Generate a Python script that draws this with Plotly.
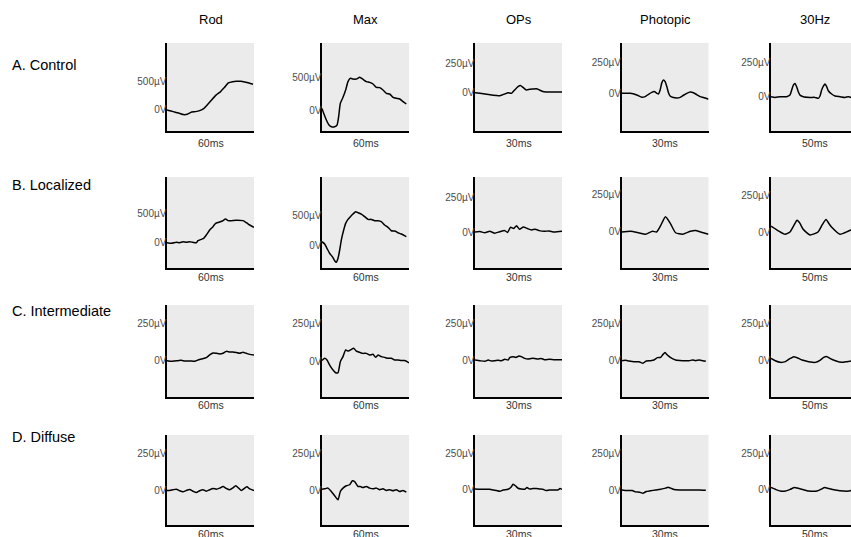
import plotly.graph_objects as go

# ---------------- data ----------------
row_labels = ["A. Control", "B. Localized", "C. Intermediate", "D. Diffuse"]
col_labels = ["Rod", "Max", "OPs", "Photopic", "30Hz"]
time_labels = ["60ms", "60ms", "30ms", "30ms", "50ms"]
big_ticks = [0, 500]
big_tick_text = ["0V", "500µV"]
small_ticks = [0, 250]
small_tick_text = ["0V", "250µV"]

# A. Control
control_rod_t = [0, 6.9, 14.4, 21.3, 28.2, 35.1, 42.5, 49.4, 56.3, 63.8, 70.7, 77.6, 84.5, 92, 98.9, 105.7, 113.2, 120.1, 127, 133.9, 141.4, 148.3]
control_rod_v = [0, -18, -41, -59, -82, -76, -35, -29, -12, 29, 106, 188, 265, 324, 400, 482, 506, 512, 512, 500, 482, 459]
control_max_t = [0, 2.9, 7.5, 12.1, 16.1, 21.8, 25.9, 28.7, 31.6, 36.2, 40.8, 44.8, 48.9, 53.4, 59.2, 65, 70.7, 76.5, 82.2, 88, 93.7, 99.5, 105.2, 111, 116.7, 122.5, 128.2, 134, 139.7, 145.4]
control_max_v = [25, -51, -153, -230, -255, -255, -230, -102, 102, 194, 306, 434, 485, 474, 474, 500, 469, 434, 423, 398, 347, 342, 306, 255, 245, 194, 179, 168, 128, 92]
control_ops_t = [0, 4.3, 10, 15.7, 21.4, 25.7, 28.5, 31.4, 34.2, 37.1, 39.1, 41.4, 44.2, 47.1, 49.9, 52.8, 55.6, 58.5, 61.3, 64.2, 68.4, 75]
control_ops_v = [0, -6, -14, -23, -26, -11, 0, -6, 23, 51, 60, 45, 23, 28, 31, 34, 23, 9, 6, 6, 6, 6]
control_pho_t = [0, 7.5, 13.2, 17.5, 20.4, 23.3, 26.1, 28.2, 30.5, 31.9, 33.3, 34.8, 36.2, 37.6, 39.1, 40.5, 41.9, 44.8, 47.7, 50.6, 53.4, 56.3, 59.2, 62, 64.9, 67.8, 70.7, 75]
control_pho_v = [0, 0, -14, -33, -27, -8, 8, 14, 0, -5, 27, 87, 109, 95, 54, 5, -22, -35, -38, -33, -16, 0, 11, 5, -11, -27, -35, -49]
control_hz_t = [0, 4.4, 9.8, 17.1, 20.7, 22.6, 24.4, 26.2, 28, 29.8, 31.7, 35.3, 42.6, 48, 51.7, 53.5, 55.3, 57.2, 59, 60.8, 62.6, 66.2, 69.9, 75.3, 80.8, 84.4, 87.4, 95]
control_hz_v = [0, -5, 0, 0, 12, 49, 86, 98, 74, 37, 12, 0, -5, -5, -12, 5, 49, 78, 93, 74, 44, 20, 5, 0, -5, 0, -5, -5]

# B. Localized
local_rod_t = [0, 7.5, 16.1, 21.8, 27.6, 33.3, 39.1, 44.8, 50.6, 53.4, 59.2, 63.2, 67.8, 73.6, 79.3, 83.9, 89.7, 95.4, 101.1, 105.2, 110.9, 119.5, 131, 136.8, 142.5, 150]
local_rod_v = [0, -11, 6, 0, 17, 6, 17, 6, 0, 34, 57, 74, 131, 216, 273, 330, 347, 369, 403, 375, 375, 381, 375, 341, 301, 261]
local_max_t = [0, 4.6, 8.6, 13.2, 17.8, 21.8, 24.7, 27.6, 30.5, 33.3, 37.4, 40.8, 44.8, 48.9, 53.4, 58, 62.1, 67.8, 73.6, 79.3, 85.1, 90.8, 96.6, 102.3, 108, 113.8, 119.5, 125.3, 131, 136.8, 145.4]
local_max_v = [57, 17, -57, -142, -199, -267, -295, -227, -85, 85, 256, 369, 437, 483, 528, 568, 551, 528, 483, 437, 437, 415, 415, 398, 341, 301, 244, 239, 210, 187, 142]
local_ops_t = [0, 4.3, 8.5, 12.8, 17, 21.3, 25.6, 28.1, 30.7, 33.2, 35.8, 38.3, 41.7, 45.1, 48.6, 52, 55.4, 59.6, 63.9, 68.2, 75]
local_ops_v = [0, 3, -5, 5, -8, 2, 10, -3, 35, 25, 45, 20, 35, 25, 15, 20, 10, 5, 8, 0, 5]
local_pho_t = [0, 7.8, 14.7, 20.7, 26.7, 30.2, 33.6, 37.9, 42.2, 46.6, 52.6, 59.5, 63.8, 68.1, 75]
local_pho_v = [0, 5, -5, -15, 5, 0, 40, 100, 55, -5, -15, 5, 10, 0, -15]
local_hz_t = [0, 7.6, 15.3, 20.7, 25, 28.4, 31.5, 34.9, 42.6, 51.3, 56, 60.1, 63.5, 66.6, 75.3, 84.1, 95]
local_hz_v = [40, 10, -15, 0, 45, 80, 60, 20, -20, 0, 50, 85, 55, 30, -15, 5, 40]

# C. Intermediate
inter_rod_t = [0, 7.5, 13.2, 19, 24.7, 30.5, 39.1, 47.7, 53.4, 59.2, 67.8, 73.6, 79.3, 85.1, 90.8, 96.6, 102.3, 108, 113.8, 119.5, 125.3, 131, 136.8, 142.5, 150]
inter_rod_v = [0, -4, -2, 0, 2, -2, -2, -4, 4, 11, 20, 38, 51, 49, 45, 49, 62, 58, 58, 54, 49, 56, 49, 42, 38]
inter_max_t = [0, 4.6, 8.6, 13.2, 19, 23.6, 27.6, 31.6, 36.2, 40.8, 45.4, 50.6, 54.6, 59.2, 64.9, 70.7, 76.4, 82.2, 87.9, 92.5, 96.6, 102.3, 108, 113.8, 119.5, 125.3, 131, 136.8, 142.5, 150]
inter_max_v = [7, 22, 11, -22, -54, -72, -72, 0, 33, 76, 69, 80, 87, 69, 61, 54, 54, 43, 48, 28, 43, 33, 28, 22, 22, 11, 11, 7, 7, -7]
inter_ops_t = [0, 4.3, 8.6, 11.4, 14.3, 17.1, 20, 22.8, 25.7, 28.5, 29.9, 32.8, 35.1, 37.9, 39.9, 42.8, 45.6, 48.5, 51.3, 54.2, 57, 59.9, 64.2, 68.4, 75]
inter_ops_v = [0, -5, -9, 0, -7, -5, -2, -5, 5, 0, 16, 23, 18, 27, 23, 11, 7, 11, 11, 7, 11, 2, 5, 2, 2]
inter_pho_t = [0, 3.5, 6.3, 10.7, 15, 18.5, 21.3, 25.1, 28, 30.9, 33.8, 35.8, 37.5, 39.5, 42.4, 46.7, 52.5, 58.3, 61.2, 64, 66.9, 69.8, 72.7]
inter_pho_v = [0, 2, -2, -7, -7, -18, -2, 0, 4, 20, 22, 42, 54, 38, 20, 4, 0, 0, 4, 0, 4, 0, -4]
inter_hz_t = [0, 4.7, 10.2, 15.7, 21.1, 24.8, 28.4, 33.9, 41.1, 48.4, 53.9, 57.5, 61.2, 64.8, 70.3, 77.5, 83, 87.7, 95]
inter_hz_v = [11, -5, -16, -11, 11, 23, 16, 0, -11, -16, 0, 18, 23, 9, -5, -16, -11, -7, 11]

# D. Diffuse
diff_rod_t = [0, 4.6, 10.3, 16.1, 21.8, 27.6, 33.3, 39.1, 44.8, 50.6, 56.3, 62.1, 67.8, 73.6, 79.3, 85.1, 90.8, 96.6, 102.3, 108, 113.8, 118.4, 124.1, 128.2, 133.9, 137.9, 142.5, 150]
diff_rod_v = [0, 0, 5, 9, -2, -9, 0, 7, -5, -14, -2, 5, -5, 5, 14, 9, 16, 27, 14, 5, 18, 32, 14, 0, 16, 25, 11, 0]
diff_max_t = [0, 4.6, 10.3, 16.1, 21.8, 27.6, 31.6, 36.2, 42, 47.7, 52.3, 56.3, 62.1, 66.1, 70.7, 76.4, 82.2, 87.9, 93.7, 99.4, 105.2, 110.9, 116.7, 122.4, 128.2, 133.9, 139.7, 145.4]
diff_max_v = [9, 11, 16, -7, -36, -64, -7, 16, 32, 39, 66, 61, 27, 27, 20, 27, 16, 11, 16, 5, 11, 0, 5, -2, 5, -7, 0, -11]
diff_ops_t = [0, 4.3, 8.6, 12.8, 15.7, 18.5, 21.4, 24.2, 28.5, 31.4, 32.8, 35.1, 37.1, 39.9, 42.8, 44.8, 47.1, 49.9, 52.8, 55.6, 58.5, 61.3, 64.2, 67, 71.3, 73.3, 75]
diff_ops_v = [2, 0, 0, 0, -5, -9, -14, -5, 0, 18, 35, 23, 7, 2, 0, 12, 2, 5, 5, 2, 0, -9, -5, -5, -5, 5, 0]
diff_pho_t = [0, 4.9, 9.2, 12.1, 15.6, 18.5, 21.3, 25.1, 29.4, 32.3, 35.2, 38.1, 40.1, 42.4, 45.3, 49.6, 58.3, 66.9, 72.7]
diff_pho_v = [4, 0, 0, -9, -11, -18, -7, -2, 4, 7, 11, 16, 22, 16, 7, 4, 4, 4, 2]
diff_hz_t = [0, 4.7, 10.2, 15.7, 21.1, 25.5, 28.4, 33.9, 41.1, 50.2, 54.6, 58.6, 63, 70.3, 79.4, 84.8, 87.7, 95]
diff_hz_v = [12, 0, -12, -12, 0, 12, 9, 0, -12, -12, 0, 12, 5, -5, -12, -12, -7, 7]

traces = [
    [(control_rod_t, control_rod_v), (control_max_t, control_max_v), (control_ops_t, control_ops_v), (control_pho_t, control_pho_v), (control_hz_t, control_hz_v)],
    [(local_rod_t, local_rod_v), (local_max_t, local_max_v), (local_ops_t, local_ops_v), (local_pho_t, local_pho_v), (local_hz_t, local_hz_v)],
    [(inter_rod_t, inter_rod_v), (inter_max_t, inter_max_v), (inter_ops_t, inter_ops_v), (inter_pho_t, inter_pho_v), (inter_hz_t, inter_hz_v)],
    [(diff_rod_t, diff_rod_v), (diff_max_t, diff_max_v), (diff_ops_t, diff_ops_v), (diff_pho_t, diff_pho_v), (diff_hz_t, diff_hz_v)],
]

# ---------------- layout geometry (pixels) ----------------
W, H = 851, 537
col_x0 = [167, 322, 475, 621.5, 771]
panel_w = 87
col_tmax = [150, 150, 75, 75, 95]
row_top = [43, 177, 305, 435]
row_bot = [131, 268, 397, 525]
y_ranges = [
    [[-375, 1196], [-321, 1025], [-326, 422], [-308, 411], [-252, 395]],
    [[-430, 1117], [-392, 1160], [-257, 393], [-237, 362], [-243, 372]],
    [[-243, 372], [-230, 369], [-252, 375], [-243, 372], [-252, 375]],
    [[-236, 379], [-236, 379], [-248, 377], [-231, 372], [-248, 377]],
]
xlabel_y = [143, 277, 405, 534]
row_label_y = [65, 185, 311, 437]
header_y = 19

FONT = "Liberation Sans, Arial, sans-serif"
fig = go.Figure()
layout = dict(
    width=W, height=H, margin=dict(l=0, r=0, t=0, b=0),
    paper_bgcolor="white", plot_bgcolor="#EBEBEB", showlegend=False,
    font=dict(family=FONT, color="#4D4D4D", size=10),
)
annotations = []

k = 0
for r in range(4):
    for c in range(5):
        k += 1
        xa = "xaxis" if k == 1 else f"xaxis{k}"
        ya = "yaxis" if k == 1 else f"yaxis{k}"
        xr = "x" if k == 1 else f"x{k}"
        yr = "y" if k == 1 else f"y{k}"
        x0 = col_x0[c]
        x1 = x0 + panel_w
        tmax = col_tmax[c]
        if x1 > W:
            tmax = col_tmax[c] * (W - x0) / panel_w
            x1 = W
        layout[xa] = dict(
            domain=[x0 / W, x1 / W], range=[0, tmax], anchor=yr,
            showline=True, linecolor="black", linewidth=1.6,
            showticklabels=False, ticks="", showgrid=False, zeroline=False,
            fixedrange=True,
        )
        big = (r < 2 and c < 2)
        layout[ya] = dict(
            domain=[1 - row_bot[r] / H, 1 - row_top[r] / H], range=y_ranges[r][c],
            anchor=xr, showline=True, linecolor="black", linewidth=1.6,
            tickmode="array",
            tickvals=big_ticks if big else small_ticks,
            ticktext=big_tick_text if big else small_tick_text,
            ticks="", ticklabelstandoff=-3, showgrid=False, zeroline=False,
            tickfont=dict(size=10, color="#4D4D4D", family=FONT),
            fixedrange=True,
        )
        t, v = traces[r][c]
        fig.add_trace(go.Scatter(
            x=t, y=v, xaxis=xr, yaxis=yr, mode="lines",
            line=dict(color="black", width=1.5, shape="spline", smoothing=0.5),
            hoverinfo="skip",
        ))
        annotations.append(dict(
            text=time_labels[c], xref="paper", yref="paper",
            x=(col_x0[c] + panel_w / 2) / W, y=1 - xlabel_y[r] / H,
            xanchor="center", yanchor="middle", showarrow=False,
            font=dict(size=10.5, color="#333333", family=FONT),
        ))

for c in range(5):
    annotations.append(dict(
        text=col_labels[c], xref="paper", yref="paper",
        x=(col_x0[c] + panel_w / 2) / W, y=1 - header_y / H,
        xanchor="center", yanchor="middle", showarrow=False,
        font=dict(size=13, color="black", family=FONT),
    ))
for r in range(4):
    annotations.append(dict(
        text=row_labels[r], xref="paper", yref="paper",
        x=10 / W, y=1 - row_label_y[r] / H,
        xanchor="left", yanchor="middle", showarrow=False,
        font=dict(size=14.5, color="black", family=FONT),
    ))

layout["annotations"] = annotations
fig.update_layout(**layout)
fig.write_html(
    "out.html",
    config={"displayModeBar": False, "staticPlot": True},
    post_script="document.body.style.margin='0';document.body.style.overflow='hidden';",
)
